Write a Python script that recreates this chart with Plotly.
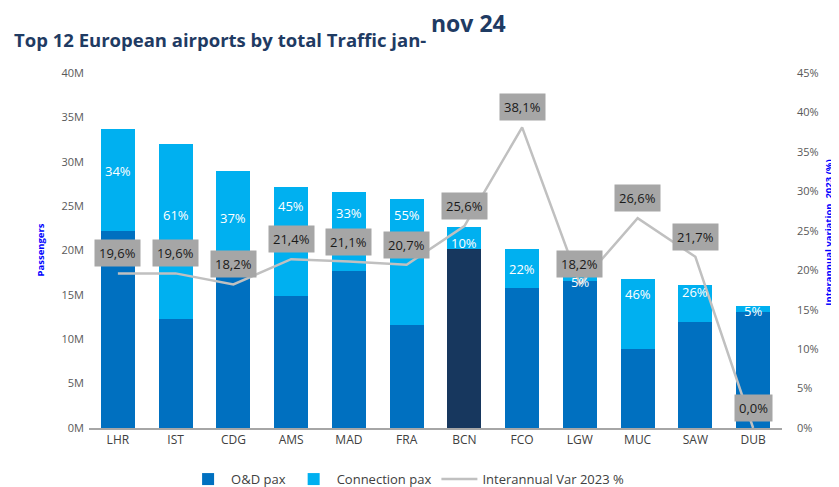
import plotly.graph_objects as go

# ---- data ----
airports = ["LHR", "IST", "CDG", "AMS", "MAD", "FRA", "BCN", "FCO", "LGW", "MUC", "SAW", "DUB"]
od_pax = [22.2, 12.3, 18.3, 14.9, 17.7, 11.6, 20.2, 15.8, 16.6, 8.9, 12.0, 13.1]          # millions
total_pax = [33.7, 32.0, 29.0, 27.2, 26.6, 25.8, 22.6, 20.2, 17.5, 16.8, 16.1, 13.8]      # millions
conn_pax = [round(t - o, 2) for t, o in zip(total_pax, od_pax)]
conn_share_labels = ["34%", "61%", "37%", "45%", "33%", "55%", "10%", "22%", "5%", "46%", "26%", "5%"]
interannual_var = [19.6, 19.6, 18.2, 21.4, 21.1, 20.7, 25.6, 38.1, 18.2, 26.6, 21.7, 0.0]  # %
left_ticks = list(range(0, 41, 5))
right_ticks = list(range(0, 46, 5))

# ---- styling / layout helpers ----
C_OD = "#0070c0"
C_OD_HL = "#17375e"
C_CONN = "#00b0f0"
C_LINE = "#c0c0c0"
od_colors = [C_OD_HL if a == "BCN" else C_OD for a in airports]
conn_label_at = [29.0, 24.0, 23.7, 25.0, 24.2, 24.0, 20.9, 17.9, 16.5, 15.1, 15.3, 13.2]
FONT = "Open Sans"

fig = go.Figure()
fig.add_trace(go.Bar(x=airports, y=od_pax, name="O&D pax",
                     marker=dict(color=od_colors, line=dict(width=0))))
fig.add_trace(go.Bar(x=airports, y=conn_pax, name="Connection pax",
                     marker=dict(color=C_CONN, line=dict(width=0))))
fig.add_trace(go.Scatter(x=airports, y=interannual_var, name="Interannual Var 2023 %",
                         yaxis="y2", mode="lines", line=dict(color=C_LINE, width=2.5)))

ann = []
for a, yv, t in zip(airports, conn_label_at, conn_share_labels):
    ann.append(dict(x=a, y=yv, xref="x", yref="y", text=t, showarrow=False,
                    font=dict(family=FONT, size=13, color="white")))
for a, v in zip(airports, interannual_var):
    ann.append(dict(x=a, y=v, xref="x", yref="y2", text=f"{v:.1f}%".replace(".", ","),
                    showarrow=False, yshift=20, bgcolor="#a6a6a6", borderpad=4,
                    font=dict(family=FONT, size=13, color="#1a1a1a")))

# titles
ann.append(dict(xref="paper", yref="paper", x=-0.111, y=1.093, xanchor="left", yanchor="middle",
                text="<b>Top 12 European airports by total Traffic jan-</b>", showarrow=False,
                font=dict(family=FONT, size=18.5, color="#1f3b63")))
ann.append(dict(xref="paper", yref="paper", x=0.49, y=1.142, xanchor="left", yanchor="middle",
                text="<b>nov 24</b>", showarrow=False,
                font=dict(family=FONT, size=23, color="#1f3b63")))
ann.append(dict(xref="paper", yref="paper", x=0, y=0.5, xshift=-49, xanchor="center", yanchor="middle",
                text="<b>Passengers</b>", textangle=-90, showarrow=False,
                font=dict(family=FONT, size=9.5, color="#0000ff")))
ann.append(dict(xref="paper", yref="paper", x=1, y=0.55, xshift=47, xanchor="center", yanchor="middle",
                text="<b>Interannual variation  2023 (%)</b>", textangle=-90, showarrow=False,
                font=dict(family=FONT, size=9.5, color="#0000ff")))

fig.update_layout(
    width=839, height=487,
    margin=dict(l=81, r=65, t=65, b=67, autoexpand=False),
    paper_bgcolor="white", plot_bgcolor="white",
    barmode="stack", bargap=0.41,
    showlegend=True,
    legend=dict(orientation="h", x=0.459, xanchor="center", y=-0.144, yanchor="middle",
                font=dict(family=FONT, size=13, color="#404040"), traceorder="normal",
                itemwidth=36),
    font=dict(family=FONT, color="#595959"),
    xaxis=dict(showgrid=False, showline=True, linecolor="#a6a6a6", linewidth=1.5,
               ticks="", tickfont=dict(family=FONT, size=12, color="#404040")),
    yaxis=dict(range=[0, 40], tickvals=left_ticks, ticktext=[f"{v}M" for v in left_ticks],
               showgrid=False, zeroline=False, showline=False, ticklabelstandoff=4,
               tickfont=dict(family=FONT, size=11, color="#595959")),
    yaxis2=dict(range=[0, 45], tickvals=right_ticks, ticktext=[f"{v}%" for v in right_ticks],
                overlaying="y", side="right", showgrid=False, zeroline=False, showline=False,
                ticklabelstandoff=14,
                tickfont=dict(family=FONT, size=11, color="#595959")),
    annotations=ann,
)

fig.write_html("out.html")
